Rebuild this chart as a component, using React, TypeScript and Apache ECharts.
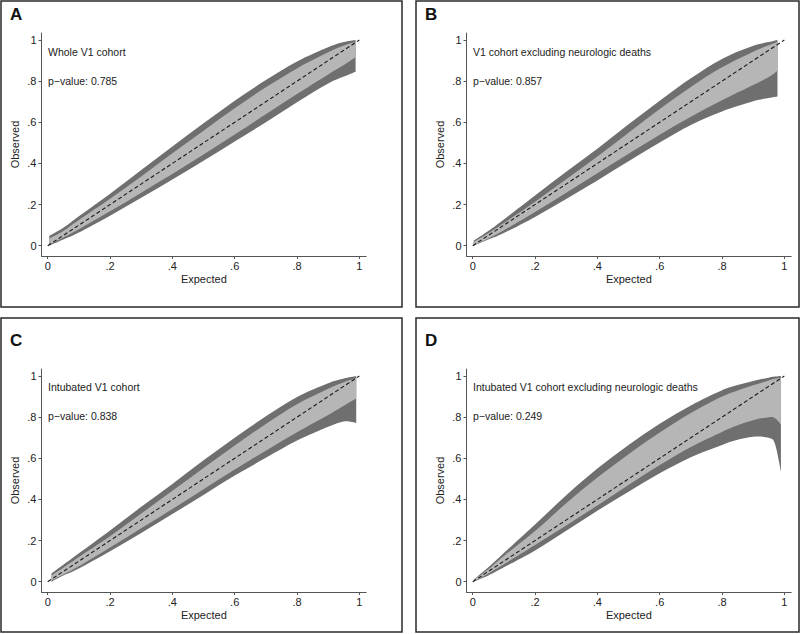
import React, { useEffect, useRef } from "react";
import * as echarts from "echarts";

// ---------- data ----------
const TICKS = [0, 0.2, 0.4, 0.6, 0.8, 1];
const DIAG_X = [0, 1];

const PANEL_LETTERS = ["A", "B", "C", "D"];
const PANEL_TITLES = [
  "Whole V1 cohort",
  "V1 cohort excluding neurologic deaths",
  "Intubated V1 cohort",
  "Intubated V1 cohort excluding neurologic deaths",
];
const P_VALUES = ["0.785", "0.857", "0.838", "0.249"];

// Panel A
const xA = [0.005, 0.05, 0.1, 0.2, 0.3, 0.4, 0.5, 0.6, 0.7, 0.8, 0.9, 0.95, 0.988];
const darkTopA = [0.048, 0.087, 0.143, 0.253, 0.368, 0.482, 0.595, 0.705, 0.805, 0.896, 0.965, 0.99, 1.0];
const lightTopA = [0.035, 0.072, 0.125, 0.228, 0.337, 0.449, 0.559, 0.668, 0.77, 0.862, 0.94, 0.973, 0.99];
const lightBotA = [0.004, 0.04, 0.08, 0.167, 0.258, 0.348, 0.443, 0.541, 0.639, 0.737, 0.832, 0.878, 0.916];
const darkBotA = [0.0, 0.03, 0.064, 0.146, 0.233, 0.322, 0.413, 0.507, 0.6, 0.697, 0.788, 0.822, 0.846];

// Panel B
const xB = [0.003, 0.05, 0.1, 0.2, 0.3, 0.4, 0.5, 0.6, 0.7, 0.8, 0.9, 0.95, 0.978];
const darkTopB = [0.025, 0.072, 0.128, 0.244, 0.359, 0.471, 0.59, 0.705, 0.814, 0.908, 0.972, 0.99, 1.0];
const lightTopB = [0.018, 0.06, 0.11, 0.214, 0.323, 0.434, 0.549, 0.665, 0.772, 0.867, 0.943, 0.974, 0.99];
const lightBotB = [0.003, 0.035, 0.075, 0.164, 0.257, 0.352, 0.447, 0.54, 0.627, 0.707, 0.781, 0.82, 0.851];
const darkBotB = [0.0, 0.03, 0.062, 0.14, 0.227, 0.317, 0.41, 0.502, 0.587, 0.653, 0.702, 0.718, 0.725];

// Panel C
const xC = [0.012, 0.05, 0.1, 0.2, 0.3, 0.4, 0.5, 0.6, 0.7, 0.8, 0.9, 0.95, 0.99];
const darkTopC = [0.04, 0.082, 0.138, 0.249, 0.364, 0.475, 0.59, 0.7, 0.804, 0.898, 0.965, 0.988, 1.0];
const lightTopC = [0.03, 0.068, 0.12, 0.221, 0.331, 0.442, 0.553, 0.662, 0.767, 0.863, 0.938, 0.97, 0.99];
const lightBotC = [0.006, 0.035, 0.075, 0.166, 0.26, 0.354, 0.45, 0.545, 0.637, 0.726, 0.81, 0.855, 0.89];
const darkBotC = [0.0, 0.03, 0.064, 0.148, 0.237, 0.329, 0.422, 0.516, 0.602, 0.686, 0.753, 0.779, 0.772];

// Panel D
const xD = [0.003, 0.05, 0.1, 0.2, 0.3, 0.4, 0.5, 0.6, 0.7, 0.8, 0.85, 0.9, 0.95, 0.97, 0.989];
const darkTopD = [0.01, 0.07, 0.14, 0.278, 0.42, 0.55, 0.665, 0.768, 0.857, 0.931, 0.956, 0.976, 0.992, 0.997, 1.0];
const lightTopD = [0.008, 0.06, 0.125, 0.246, 0.381, 0.506, 0.62, 0.725, 0.82, 0.9, 0.93, 0.955, 0.978, 0.986, 0.992];
const lightBotD = [0.0, 0.04, 0.085, 0.178, 0.273, 0.371, 0.47, 0.567, 0.655, 0.728, 0.76, 0.785, 0.8, 0.795, 0.765];
const darkBotD = [0.0, 0.03, 0.07, 0.152, 0.248, 0.345, 0.437, 0.527, 0.605, 0.665, 0.69, 0.705, 0.7, 0.67, 0.535];

const PANELS = [
  { x: xA, darkTop: darkTopA, lightTop: lightTopA, lightBot: lightBotA, darkBot: darkBotA },
  { x: xB, darkTop: darkTopB, lightTop: lightTopB, lightBot: lightBotB, darkBot: darkBotB },
  { x: xC, darkTop: darkTopC, lightTop: lightTopC, lightBot: lightBotC, darkBot: darkBotC },
  { x: xD, darkTop: darkTopD, lightTop: lightTopD, lightBot: lightBotD, darkBot: darkBotD },
];

// ---------- style / layout ----------
const DARK = "#6f6f6f";
const LIGHT = "#b6b6b6";
const FONT = "'Liberation Sans', Arial, sans-serif";
const GRIDS = [
  { left: 41.5, top: 33 },
  { left: 466.5, top: 33 },
  { left: 41.5, top: 369 },
  { left: 466.5, top: 369 },
];
const BOXES = [
  { x: 1, y: 1, w: 401, h: 306 },
  { x: 416, y: 1, w: 383, h: 306 },
  { x: 1, y: 318, w: 401, h: 314 },
  { x: 416, y: 318, w: 383, h: 314 },
];

const fmt = (v: number) => (v === 0 ? "0" : v === 1 ? "1" : "." + Math.round(v * 10));

// Catmull-Rom smooth curve through pixel points, as SVG path commands (no initial M)
function curve(pts: number[][]): string {
  let d = "";
  const n = pts.length;
  for (let i = 0; i < n - 1; i++) {
    const p0 = pts[Math.max(0, i - 1)];
    const p1 = pts[i];
    const p2 = pts[i + 1];
    const p3 = pts[Math.min(n - 1, i + 2)];
    const c1x = p1[0] + (p2[0] - p0[0]) / 6;
    const c1y = p1[1] + (p2[1] - p0[1]) / 6;
    const c2x = p2[0] - (p3[0] - p1[0]) / 6;
    const c2y = p2[1] - (p3[1] - p1[1]) / 6;
    d += ` C${c1x},${c1y} ${c2x},${c2y} ${p2[0]},${p2[1]}`;
  }
  return d;
}

function bandPath(upper: number[][], lower: number[][]): string {
  const lowerRev = lower.slice().reverse();
  return (
    `M${upper[0][0]},${upper[0][1]}` +
    curve(upper) +
    ` L${lowerRev[0][0]},${lowerRev[0][1]}` +
    curve(lowerRev) +
    " Z"
  );
}

export default function App() {
  const ref = useRef<HTMLDivElement>(null);
  useEffect(() => {
    if (!ref.current) return;
    const chart = echarts.init(ref.current, undefined, { renderer: "svg" });

    const grid = GRIDS.map((g) => ({ left: g.left, top: g.top, width: 324.7, height: 223 }));
    const axisCommon = {
      type: "value" as const,
      nameLocation: "middle" as const,
      nameTextStyle: { fontFamily: FONT, fontSize: 11, color: "#222" },
      axisLine: { show: true, onZero: false, lineStyle: { color: "#555", width: 1 } },
      axisTick: { show: true, length: 3, lineStyle: { color: "#555" }, customValues: TICKS },
      splitLine: { show: false },
    };
    const xAxis = GRIDS.map((_, i) => ({
      ...axisCommon,
      gridIndex: i,
      min: -0.02,
      max: 1.022,
      name: "Expected",
      nameGap: 17,
      axisLabel: { fontFamily: FONT, fontSize: 11, color: "#222", margin: 4, customValues: TICKS, formatter: fmt },
    }));
    const yAxis = GRIDS.map((_, i) => ({
      ...axisCommon,
      gridIndex: i,
      min: -0.05,
      max: 1.034,
      name: "Observed",
      nameGap: 21,
      axisLabel: { fontFamily: FONT, fontSize: 11, color: "#222", margin: 5, customValues: TICKS, formatter: fmt },
    }));

    const series: any[] = [];
    PANELS.forEach((p, i) => {
      const rows = p.x.map((x, j) => [x, p.darkTop[j], p.lightTop[j], p.lightBot[j], p.darkBot[j]]);
      series.push({
        type: "custom",
        xAxisIndex: i,
        yAxisIndex: i,
        silent: true,
        z: 2,
        encode: { x: 0, y: [1, 2, 3, 4] },
        data: rows,
        renderItem: (params: any, api: any) => {
          if (params.dataIndex !== 0) return null;
          const n = params.dataInsideLength;
          const pts = (dim: number) => {
            const out: number[][] = [];
            for (let k = 0; k < n; k++) out.push(api.coord([api.value(0, k), api.value(dim, k)]));
            return out;
          };
          const dTop = pts(1);
          const lTop = pts(2);
          const lBot = pts(3);
          const dBot = pts(4);
          return {
            type: "group",
            children: [
              { type: "path", shape: { pathData: bandPath(dTop, dBot) }, style: { fill: DARK, stroke: null } },
              { type: "path", shape: { pathData: bandPath(lTop, lBot) }, style: { fill: LIGHT, stroke: null } },
            ],
          };
        },
      });
      series.push({
        type: "line",
        xAxisIndex: i,
        yAxisIndex: i,
        symbol: "none",
        z: 5,
        silent: true,
        data: DIAG_X.map((x) => [x, x]),
        lineStyle: { color: "#1a1a1a", width: 1.1, type: [4, 2.5] },
      });
    });

    const graphic: any[] = [];
    BOXES.forEach((b, i) => {
      graphic.push({
        type: "rect",
        z: 100,
        shape: { x: b.x, y: b.y, width: b.w, height: b.h },
        style: { fill: "none", stroke: "#2a2a2a", lineWidth: 1.5 },
        silent: true,
      });
      const g = GRIDS[i];
      graphic.push({
        type: "text",
        z: 100,
        x: b.x + 9,
        y: b.y + (i < 2 ? 13 : 22.5),
        style: {
          text: PANEL_LETTERS[i],
          font: "bold 17px " + FONT,
          fill: "#111",
          textVerticalAlign: "middle",
        },
      });
      const topY = i < 2 ? 51.7 : 386.7;
      graphic.push({
        type: "text",
        z: 100,
        x: g.left + 6.5,
        y: topY,
        style: { text: PANEL_TITLES[i], font: "10.5px " + FONT, fill: "#222", textVerticalAlign: "middle" },
      });
      graphic.push({
        type: "text",
        z: 100,
        x: g.left + 6.5,
        y: topY + 29.5,
        style: { text: "p\u2212value: " + P_VALUES[i], font: "10.5px " + FONT, fill: "#222", textVerticalAlign: "middle" },
      });
    });

    chart.setOption({
      animation: false,
      backgroundColor: "#fff",
      grid,
      xAxis,
      yAxis,
      series,
      graphic,
    });
    return () => chart.dispose();
  }, []);
  return <div ref={ref} style={{ width: 800, height: 634, position: "absolute", left: 0, top: 0 }} />;
}
